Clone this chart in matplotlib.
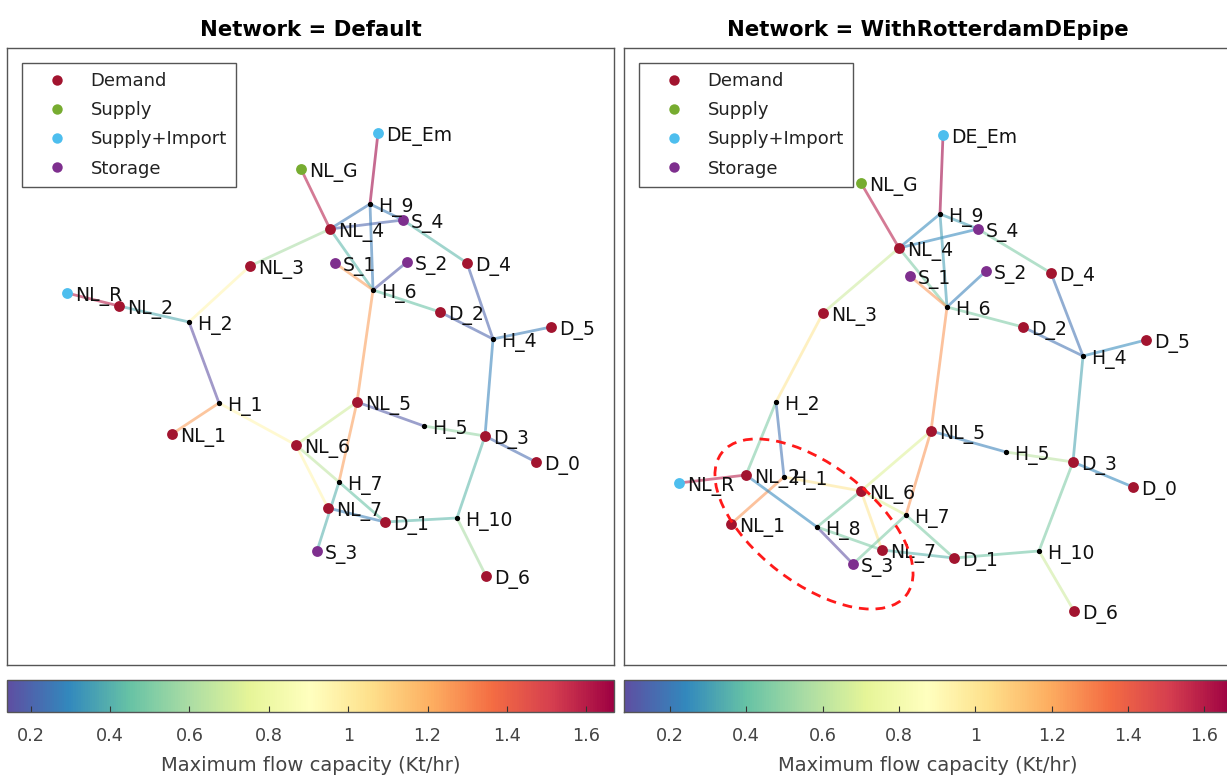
import numpy as np
import matplotlib
matplotlib.use("Agg")
import matplotlib.pyplot as plt
from matplotlib.collections import LineCollection
from matplotlib.patches import Ellipse
from matplotlib.lines import Line2D
from matplotlib.colors import Normalize
from matplotlib.cm import ScalarMappable

plt.rcParams['font.family'] = ['DejaVu Sans']

# ---------------- data ----------------
demand_nodes = ["NL_1", "NL_2", "NL_3", "NL_4", "NL_5", "NL_6", "NL_7",
                "D_0", "D_1", "D_2", "D_3", "D_4", "D_5", "D_6"]
supply_nodes = ["NL_G"]
import_nodes = ["NL_R", "DE_Em"]
storage_nodes = ["S_1", "S_2", "S_3", "S_4"]

# Panel 1: Default network (layout coordinates)
nodes_default = ["DE_Em", "NL_G", "H_9", "S_4", "NL_4", "S_1", "S_2", "D_4", "H_6",
                 "NL_3", "NL_R", "NL_2", "H_2", "D_2", "D_5", "H_4", "NL_5", "H_1",
                 "H_5", "D_3", "NL_1", "NL_6", "D_0", "H_7", "NL_7", "D_1", "H_10",
                 "S_3", "D_6"]
x_default = [378, 301, 370, 403, 330, 335, 407, 467, 373,
             250, 67, 119, 189, 440, 551, 493, 357, 219,
             424, 485, 172, 296, 536, 339, 328, 385, 457,
             317, 486]
y_default = [133, 169, 204, 220, 229, 263, 262, 263, 290,
             266, 293, 306, 322, 312, 327, 339, 402, 403,
             426, 436, 434, 445, 462, 482, 508, 522, 518,
             551, 576]
edge_from_default = ["DE_Em", "NL_G", "NL_R", "H_9", "H_9", "NL_4", "H_9", "NL_4", "S_1",
                     "S_2", "S_4", "D_4", "H_6", "D_2", "H_4", "H_4", "NL_3", "NL_3",
                     "NL_2", "H_2", "H_1", "H_1", "NL_6", "H_6", "NL_5", "NL_5", "H_5",
                     "D_3", "NL_6", "NL_6", "H_7", "H_7", "NL_7", "D_1", "H_10", "H_10"]
edge_to_default = ["H_9", "NL_4", "NL_2", "NL_4", "S_4", "S_4", "H_6", "H_6", "H_6",
                   "H_6", "D_4", "H_4", "D_2", "H_4", "D_5", "D_3", "NL_4", "H_2",
                   "H_2", "H_1", "NL_1", "NL_6", "NL_5", "NL_5", "H_7", "H_5", "D_3",
                   "D_0", "H_7", "NL_7", "S_3", "D_1", "D_1", "H_10", "D_3", "D_6"]
cap_default = [1.67, 1.60, 1.60, 0.25, 0.26, 0.20, 0.26, 0.42, 1.25,
               0.18, 0.42, 0.20, 0.45, 0.20, 0.26, 0.28, 0.60, 0.95,
               0.38, 0.14, 1.25, 0.95, 0.70, 1.25, 1.25, 0.18, 0.55,
               0.22, 0.65, 0.95, 0.40, 0.45, 0.27, 0.42, 0.42, 0.60]
clim_default = (0.14, 1.67)

# Panel 2: WithRotterdamDEpipe network (layout coordinates)
nodes_pipe = ["DE_Em", "NL_G", "H_9", "S_4", "NL_4", "S_1", "S_2", "D_4", "H_6",
              "NL_3", "D_2", "D_5", "H_4", "H_2", "NL_5", "H_5", "D_3", "NL_R",
              "NL_2", "H_1", "D_0", "NL_6", "H_7", "NL_1", "H_8", "NL_7", "H_10",
              "D_1", "S_3", "D_6"]
x_pipe = [943, 861, 940, 978, 899, 910, 986, 1051, 947,
          823, 1023, 1146, 1083, 776, 931, 1006, 1073, 679,
          746, 784, 1133, 861, 906, 731, 817, 882, 1039,
          954, 853, 1074]
y_pipe = [135, 183, 214, 229, 248, 276, 271, 273, 307,
          313, 327, 340, 356, 402, 431, 452, 462, 483,
          475, 477, 487, 491, 515, 524, 527, 550, 551,
          558, 564, 611]
edge_from_pipe = ["DE_Em", "NL_G", "NL_R", "H_9", "H_9", "NL_4", "H_9", "NL_4", "S_1",
                  "S_2", "S_4", "D_4", "H_6", "D_2", "H_4", "H_4", "NL_3", "NL_3",
                  "H_2", "H_2", "H_1", "H_1", "NL_2", "H_8", "H_8", "H_8", "NL_6",
                  "NL_6", "NL_6", "H_6", "NL_5", "NL_5", "H_5", "D_3", "H_7", "H_7",
                  "NL_7", "D_1", "H_10", "H_10"]
edge_to_pipe = ["H_9", "NL_4", "NL_2", "NL_4", "S_4", "S_4", "H_6", "H_6", "H_6",
                "H_6", "D_4", "H_4", "D_2", "H_4", "D_5", "D_3", "NL_4", "H_2",
                "NL_2", "H_1", "NL_1", "NL_6", "H_8", "S_3", "NL_6", "NL_7", "NL_7",
                "H_7", "NL_5", "NL_5", "H_7", "H_5", "D_3", "D_0", "S_3", "D_1",
                "D_1", "H_10", "D_3", "D_6"]
cap_pipe = [1.67, 1.60, 1.60, 0.25, 0.30, 0.24, 0.30, 0.45, 1.25,
            0.22, 0.45, 0.18, 0.45, 0.18, 0.25, 0.32, 0.65, 1.00,
            0.45, 0.18, 1.25, 1.00, 0.24, 0.08, 0.45, 0.45, 1.00,
            0.70, 0.70, 1.25, 1.25, 0.22, 0.60, 0.24, 0.45, 0.45,
            0.36, 0.42, 0.45, 0.65]
clim_pipe = (0.08, 1.67)

# highlighted region (panel 2): centre, full axes, rotation
highlight_center = (814, 524)
highlight_size = (233, 118)
highlight_angle = 37.6

titles = ["Network = Default", "Network = WithRotterdamDEpipe"]
cbar_ticks = [0.2, 0.4, 0.6, 0.8, 1.0, 1.2, 1.4, 1.6]
cbar_ticklabels = ["0.2", "0.4", "0.6", "0.8", "1", "1.2", "1.4", "1.6"]
cbar_label = "Maximum flow capacity (Kt/hr)"
legend_labels = ["Demand", "Supply", "Supply+Import", "Storage"]

# ---------------- style ----------------
W, H = 1227, 778
cat_colors = {"Demand": "#A2142F", "Supply": "#77AC30",
              "Supply+Import": "#4DBEEE", "Storage": "#7E2F8E"}
cmap = plt.get_cmap("Spectral_r")


def node_cat(n):
    if n in demand_nodes:
        return "Demand"
    if n in supply_nodes:
        return "Supply"
    if n in import_nodes:
        return "Supply+Import"
    if n in storage_nodes:
        return "Storage"
    return "Hub"


fig = plt.figure(figsize=(W / 100, H / 100), dpi=100)


def px_axes(x0, y0, w, h):
    return fig.add_axes([x0 / W, 1 - (y0 + h) / H, w / W, h / H])


def draw_panel(ax, cax, title, names, xs, ys, efrom, eto, caps, clim, xlim):
    pos = {n: (x, y) for n, x, y in zip(names, xs, ys)}
    norm = Normalize(*clim)
    segs = [[pos[a], pos[b]] for a, b in zip(efrom, eto)]
    lc = LineCollection(segs, colors=cmap(norm(np.array(caps))),
                        linewidths=2.0, alpha=0.58, zorder=1, capstyle='round')
    ax.add_collection(lc)
    for n in names:
        c = node_cat(n)
        x, y = pos[n]
        if c == "Hub":
            ax.plot(x, y, 'o', color='black', markersize=2.8, zorder=3)
        else:
            ax.plot(x, y, 'o', color=cat_colors[c], markersize=7.8,
                    markeredgewidth=0, zorder=3)
        ax.annotate(n, xy=(x, y), xytext=(5.5, -5.5), textcoords='offset points',
                    fontsize=13.5, ha='left', va='baseline', zorder=4, color='#111111')
    ax.set_xlim(*xlim)
    ax.set_ylim(665, 48)
    ax.set_xticks([])
    ax.set_yticks([])
    for s in ax.spines.values():
        s.set_color('#555555')
        s.set_linewidth(1.0)
    ax.set_title(title, fontsize=15.3, fontweight='bold', pad=9)

    handles = [Line2D([], [], marker='o', linestyle='none', color=cat_colors[k],
                      markersize=7.5, markeredgewidth=0) for k in legend_labels]
    leg = ax.legend(handles, legend_labels, loc='upper left',
                    bbox_to_anchor=(15 / 607, 1 - 15 / 617), borderaxespad=0,
                    fontsize=13, handlelength=2.9, handletextpad=0.4,
                    labelspacing=0.62, borderpad=0.5, fancybox=False,
                    framealpha=1, edgecolor='#555555')
    leg.get_frame().set_linewidth(1.0)
    for t in leg.get_texts():
        t.set_color('#222222')

    sm = ScalarMappable(norm=norm, cmap=cmap)
    cb = fig.colorbar(sm, cax=cax, orientation='horizontal')
    cb.set_ticks(cbar_ticks)
    cb.set_ticklabels(cbar_ticklabels)
    cax.xaxis.set_ticks_position('bottom')
    cax.tick_params(direction='in', length=4, width=0.8, color='#333333',
                    labelsize=12.7, labelcolor='#444444', pad=11)
    cb.outline.set_edgecolor('#555555')
    cb.outline.set_linewidth(1.0)
    cb.set_label(cbar_label, fontsize=14, color='#444444', labelpad=8)


ax1 = px_axes(7, 48, 607, 617)
cax1 = px_axes(7, 680, 607, 32)
ax2 = px_axes(624, 48, 607, 617)
cax2 = px_axes(624, 680, 607, 32)

draw_panel(ax1, cax1, titles[0], nodes_default, x_default, y_default,
           edge_from_default, edge_to_default, cap_default, clim_default, (7, 614))
draw_panel(ax2, cax2, titles[1], nodes_pipe, x_pipe, y_pipe,
           edge_from_pipe, edge_to_pipe, cap_pipe, clim_pipe, (624, 1231))

ell = Ellipse(highlight_center, highlight_size[0], highlight_size[1],
              angle=highlight_angle, fill=False, edgecolor='#ff1a1a',
              linewidth=2.0, linestyle=(0, (3.5, 2.5)), zorder=5)
ax2.add_patch(ell)

fig.savefig("out.png", dpi=100)
